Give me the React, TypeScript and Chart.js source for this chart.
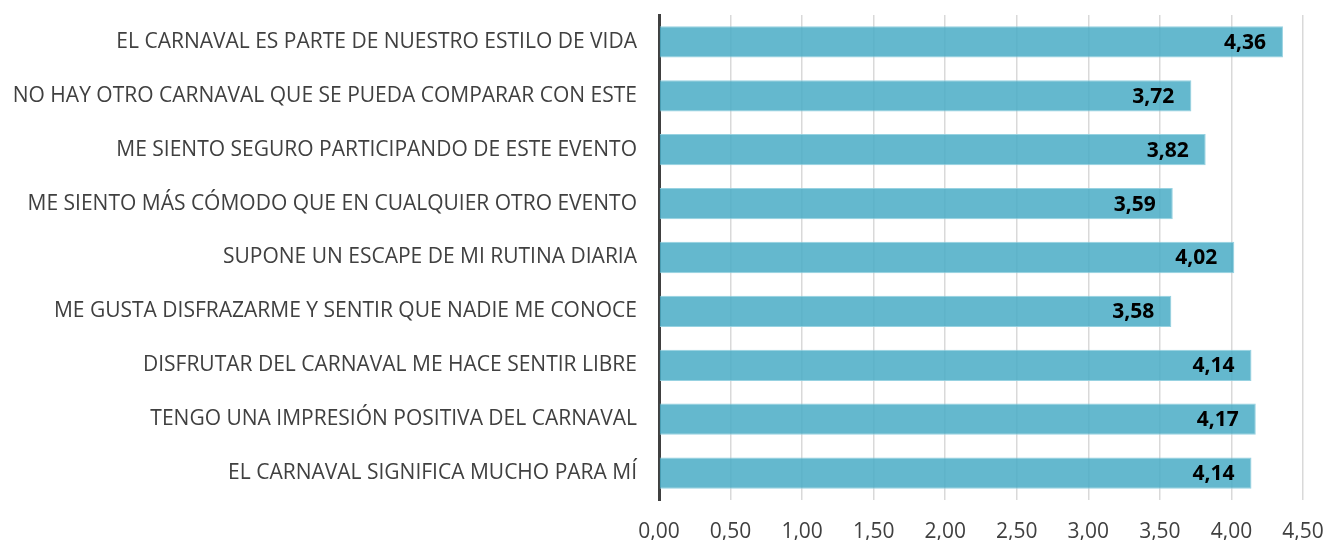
import React, { useEffect, useRef } from "react";
import { Chart, registerables } from "chart.js";

Chart.register(...registerables);

const categories = [
  "EL CARNAVAL ES PARTE DE NUESTRO ESTILO DE VIDA",
  "NO HAY OTRO CARNAVAL QUE SE PUEDA COMPARAR CON ESTE",
  "ME SIENTO SEGURO PARTICIPANDO DE ESTE EVENTO",
  "ME SIENTO MÁS CÓMODO QUE EN CUALQUIER OTRO EVENTO",
  "SUPONE UN ESCAPE DE MI RUTINA DIARIA",
  "ME GUSTA DISFRAZARME Y SENTIR QUE NADIE ME CONOCE",
  "DISFRUTAR DEL CARNAVAL ME HACE SENTIR LIBRE",
  "TENGO UNA IMPRESIÓN POSITIVA DEL CARNAVAL",
  "EL CARNAVAL SIGNIFICA MUCHO PARA MÍ",
];
const values = [4.36, 3.72, 3.82, 3.59, 4.02, 3.58, 4.14, 4.17, 4.14];
const xMin = 0;
const xMax = 4.5;
const xStep = 0.5;

const FONT = "'Open Sans', sans-serif";
const fmt = (v: number) => v.toFixed(2).replace(".", ",");

const labelPlugin = {
  id: "barValueLabels",
  afterDatasetsDraw(chart: any) {
    const ctx = chart.ctx;
    const meta = chart.getDatasetMeta(0);
    ctx.save();
    ctx.font = `bold 21px ${FONT}`;
    ctx.fillStyle = "#000000";
    ctx.textAlign = "right";
    ctx.textBaseline = "middle";
    meta.data.forEach((bar: any, i: number) => {
      ctx.fillText(fmt(values[i]), bar.x - 17, bar.y + 1);
    });
    ctx.restore();
  },
};

export default function App() {
  const ref = useRef<HTMLCanvasElement | null>(null);
  useEffect(() => {
    if (!ref.current) return;
    const chart = new Chart(ref.current, {
      type: "bar",
      data: {
        labels: categories,
        datasets: [
          {
            data: values,
            backgroundColor: "rgba(75,172,198,0.86)",
            borderColor: "rgba(140,205,222,0.9)",
            borderWidth: 1,
            categoryPercentage: 1,
            barPercentage: 0.58,
          },
        ],
      },
      options: {
        indexAxis: "y",
        animation: false,
        responsive: false,
        maintainAspectRatio: false,
        layout: { padding: { top: 15, right: 25, left: 0, bottom: 0 } },
        plugins: {
          legend: { display: false },
          tooltip: { enabled: false },
        },
        scales: {
          x: {
            min: xMin,
            max: xMax,
            ticks: {
              stepSize: xStep,
              callback: (v: any) => fmt(Number(v)),
              color: "#404040",
              font: { family: FONT, size: 21 },
              padding: 19,
            },
            grid: {
              color: (c: any) => (c.tick && c.tick.value === 0 ? "rgba(0,0,0,0)" : "#d9d9d9"),
              lineWidth: 1.5,
              drawTicks: false,
            },
            border: { display: false },
            afterFit: (s: any) => {
              s.height = 40;
              s.paddingLeft = 0;
              s.paddingRight = 0;
            },
          },
          y: {
            ticks: {
              color: "#404040",
              font: { family: FONT, size: 21 },
              padding: 22,
            },
            grid: { display: false, drawTicks: false },
            border: { display: true, color: "#404040", width: 3 },
            afterFit: (s: any) => {
              s.width = 659;
              s.paddingTop = 0;
              s.paddingBottom = 0;
            },
          },
        },
      },
      plugins: [labelPlugin],
    });
    return () => chart.destroy();
  }, []);
  return (
    <div style={{ position: "absolute", left: 0, top: 0, width: 1328, height: 540, background: "#fff" }}>
      <canvas ref={ref} width={1328} height={540} style={{ width: 1328, height: 540 }} />
    </div>
  );
}
